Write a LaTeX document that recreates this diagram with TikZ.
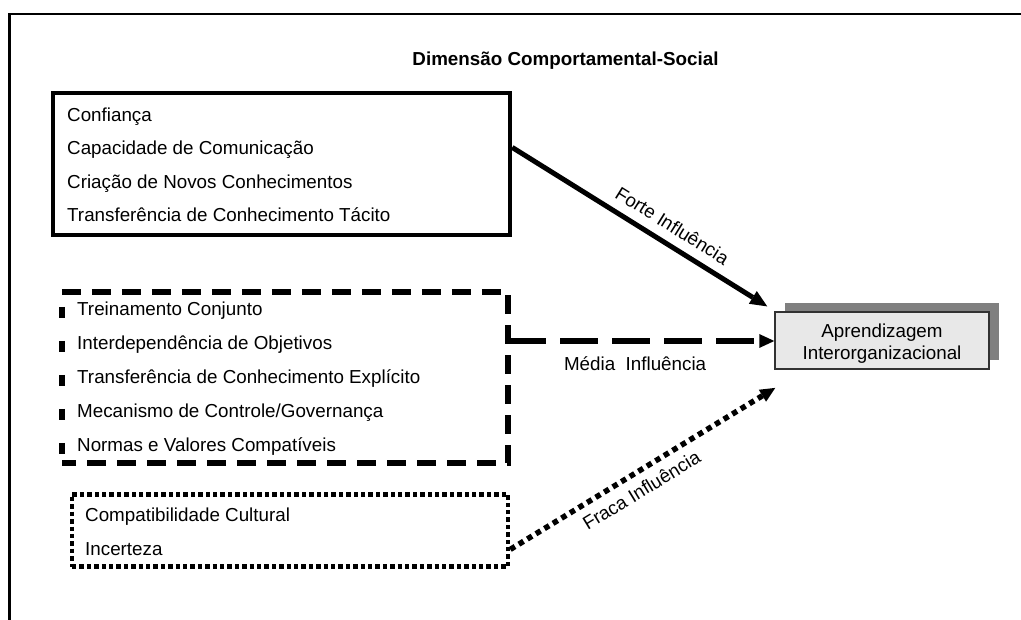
\documentclass[tikz,border=0pt]{standalone}
\usepackage{fontspec}
\setmainfont{Liberation Sans}
\usetikzlibrary{arrows.meta,calc,shadows}
\definecolor{boxfill}{RGB}{232,232,232}
\definecolor{shadowgray}{RGB}{128,128,128}
\definecolor{boxline}{RGB}{50,50,50}
\newcommand\fsz{\fontsize{18.8}{22}\selectfont}
\begin{document}
\begin{tikzpicture}[x=1pt,y=-1pt,
  every node/.style={inner sep=0pt, font=\fsz},
  item/.style={anchor=base west},
  frameline/.style={line width=2.2pt},
  solidbox/.style={draw, line width=4.5pt},
  dashbox/.style={line width=5.5pt, dash pattern=on 19pt off 11pt},
  dashleft/.style={line width=5.5pt, dash pattern=on 11pt off 23pt, dash phase=19pt},
  dotbox/.style={draw, line width=4.6pt, dash pattern=on 4.4pt off 3pt},
  strong/.style={line width=5pt, -{Triangle[length=17pt,width=15pt,line width=0pt]}},
  medium/.style={line width=5.5pt, dash pattern=on 38pt off 14pt, -{Triangle[length=15pt,width=14pt,line width=0pt]}},
  weak/.style={line width=5.5pt, dash pattern=on 5.5pt off 4.5pt, -{Triangle[length=15pt,width=14pt,line width=0pt]}},
  target/.style={draw=boxline, line width=1.5pt, fill=boxfill, align=center,
    font=\fontsize{18.8}{21.7}\selectfont,
    general shadow={shadow xshift=9.5pt, shadow yshift=9.5pt, fill=shadowgray}},
  lbl/.style={sloped}
]
\useasboundingbox (0,0) rectangle (1021,620);
\fill[white] (0,0) rectangle (1021,620);
% outer frame
\draw[frameline] (9.5,620) -- (9.5,14) -- (1021,14);
% title
\node[font=\fsz\bfseries, anchor=base] (title) at (565.5,66) {Dimensão Comportamental-Social};

% box 1 (strong)
\node[solidbox, minimum width=457pt, minimum height=142pt] (b1) at (281.5,164) {};
\node[item] (c1) at (67,121.5) {Confiança};
\node[item] (c2) at (67,155) {Capacidade de Comunicação};
\node[item] (c3) at (67,188.5) {Criação de Novos Conhecimentos};
\node[item] (c4) at (67,222) {Transferência de Conhecimento Tácito};

% box 2 (medium)
\node[minimum width=446pt, minimum height=171pt] (b2) at (285,377.5) {};
\draw[dashbox] (b2.north west) -- (b2.north east) -- (b2.south east) -- (b2.south west);
\draw[dashleft] (b2.north west) -- (b2.south west);
\node[item] (m1) at (77,316) {Treinamento Conjunto};
\node[item] (m2) at (77,350) {Interdependência de Objetivos};
\node[item] (m3) at (77,384) {Transferência de Conhecimento Explícito};
\node[item] (m4) at (77,418) {Mecanismo de Controle/Governança};
\node[item] (m5) at (77,452) {Normas e Valores Compatíveis};

% box 3 (weak)
\node[dotbox, minimum width=436pt, minimum height=72.5pt] (b3) at (290,530.5) {};
\node[item] (w1) at (85,521.5) {Compatibilidade Cultural};
\node[item] (w2) at (85,555) {Incerteza};

% target
\node[target, minimum width=214pt, minimum height=57pt] (t) at (882,340.65)
  {\rule{0pt}{19pt}Aprendizagem\\Interorganizacional};

% connectors
\coordinate (fs) at ($(b1.north east)!0.387!(b1.south east)$);
\coordinate (fe) at ($(t.north west)+(-7,-5)$);
\draw[strong] (fs) -- node[lbl, above, pos=0.59, inner sep=9pt] (lf) {Forte Influência} (fe);

\coordinate (ms) at ($(b2.north east)!0.287!(b2.south east)$);
\draw[medium] (ms) -- node[below, pos=0.477, inner sep=12.5pt] (lm) {Média~~Influência} (ms -| t.west);

\coordinate (ws) at ($(b3.north east)!0.745!(b3.south east)$);
\coordinate (we) at ($(t.south west)+(1,18)$);
\draw[weak] (ws) -- node[lbl, below, pos=0.46, inner sep=8pt] (lw) {Fraca Influência} (we);
\end{tikzpicture}
\end{document}
